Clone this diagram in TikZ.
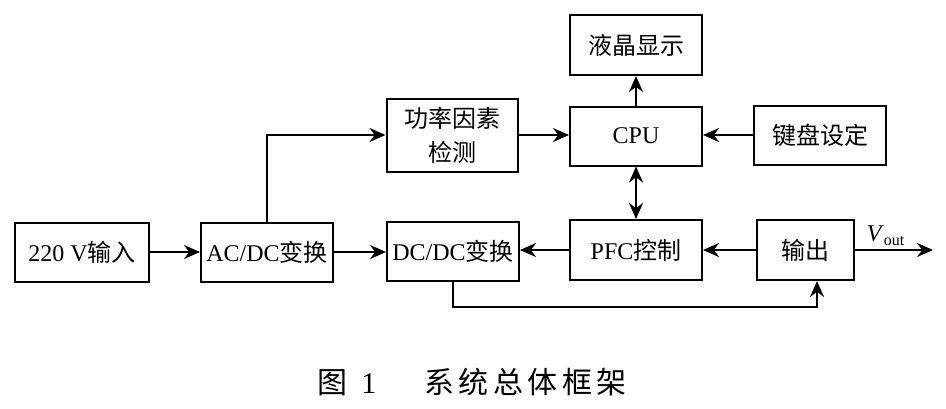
\documentclass[tikz,border=0pt]{standalone}
\usepackage{fontspec}
\setmainfont{Liberation Serif}
\newfontfamily\cjk{Noto Sans CJK SC}
\newfontfamily\cjkcap[LetterSpace=15]{Noto Sans CJK SC}
\usetikzlibrary{arrows.meta}

\tikzset{
  block/.style={draw, line width=1pt, minimum width=66pt, minimum height=29.5pt,
    inner sep=1pt, align=center, font=\fontsize{12}{17}\selectfont},
  arr/.style={line width=1pt, -{Stealth[length=8pt,width=7pt]}},
  biarr/.style={line width=1pt, {Stealth[length=8pt,width=7pt]}-{Stealth[length=8pt,width=7pt]}},
}

\begin{document}
\begin{tikzpicture}[x=0.5pt,y=-0.5pt]
\useasboundingbox (0,0) rectangle (946,408);

% bottom row
\node [block, minimum width=67pt] (in)   at (82,252)  {220 V{\cjk 输入}};
\node [block] (acdc) at (267,252) {AC/DC{\cjk 变换}};
\node [block] (dcdc) at (453,251) {DC/DC{\cjk 变换}};
\node [block, minimum height=30pt] (pfc) at (636,250) {PFC{\cjk 控制}};
\node [block, minimum width=48.5pt, minimum height=30pt] (out) at (805,250) {{\cjk 输出}};

% top part
\node [block, minimum width=65.5pt, minimum height=36.5pt] (pf) at (452,135) {{\cjk 功率因素}\\{\cjk 检测}};
\node [block] (cpu) at (636,136) {CPU};
\node [block, minimum height=30pt] (lcd) at (636,45) {{\cjk 液晶显示}};
\node [block] (key) at (820,135) {{\cjk 键盘设定}};

% connections
\draw [arr] (in) -- (acdc);
\draw [arr] (acdc.east) -- (acdc.east -| dcdc.west);
\draw [arr] (pfc.west) -- (pfc.west -| dcdc.east);
\draw [arr] (out.west) -- (out.west -| pfc.east);
\draw [arr] (acdc.north) |- (pf.west);
\draw [arr] (pf.east) -- (pf.east -| cpu.west);
\draw [arr] (key.west) -- (key.west -| cpu.east);
\draw [arr] (cpu) -- (lcd);
\draw [biarr] (cpu) -- (pfc);

\coordinate (fb) at (817,307);
\draw [arr] (dcdc.south) |- (fb) -- (fb |- out.south);

\coordinate (vend) at (933,250);
\draw [arr] (out.east) -- (vend);
\node [font=\fontsize{12}{14}\selectfont, inner sep=0pt] (vout) at (886,236) {\textit{V}\textsubscript{out}};

% caption
\node [anchor=west, inner sep=0pt, font=\fontsize{15}{18}\selectfont] (caption) at (317,382)
  {{\cjkcap 图}\hspace{7pt}1\hspace{24pt}{\cjkcap 系统总体框架}};

\end{tikzpicture}
\end{document}
